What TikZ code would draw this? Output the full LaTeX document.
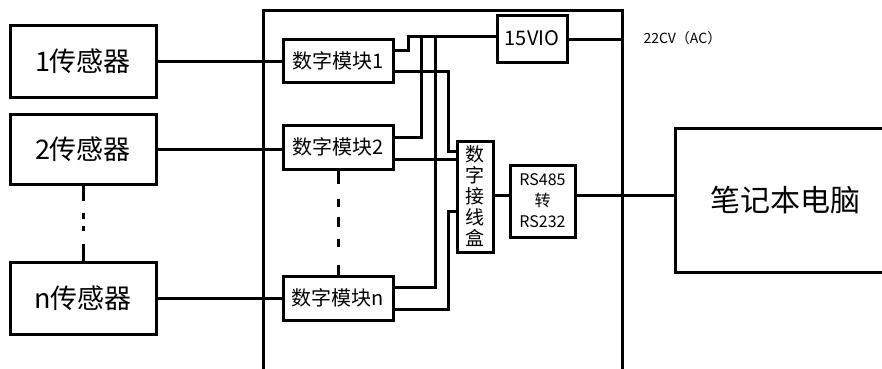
\documentclass[tikz,border=0pt]{standalone}
\usepackage{fontspec}
\setmainfont{Noto Sans CJK SC}
\begin{document}
\begin{tikzpicture}[x=1pt,y=-1pt,
  line width=3pt,
  box/.style={draw,rectangle,inner sep=0pt,line width=3pt,align=center},
  wire/.style={draw,line width=3pt},
]
\useasboundingbox (0,0) rectangle (882,368);
% enclosure
\coordinate (encTL) at (263,10);
\coordinate (encBR) at (622,395);
\draw[line width=3pt] (encTL) rectangle (encBR);

% sensors
\node[box,minimum width=146pt,minimum height=72pt,font=\fontsize{27}{30}\selectfont] (s1) at (83,61) {1传感器};
\node[box,minimum width=146pt,minimum height=70pt,font=\fontsize{27}{30}\selectfont] (s2) at (83,149) {2传感器};
\node[box,minimum width=146pt,minimum height=72pt,font=\fontsize{27}{30}\selectfont] (sn) at (83,298) {n传感器};

% modules
\node[box,minimum width=110pt,minimum height=43pt,font=\fontsize{20}{22}\selectfont] (m1) at (338,60.5) {数字模块1};
\node[box,minimum width=110pt,minimum height=44pt,font=\fontsize{20}{22}\selectfont] (m2) at (338,147) {数字模块2};
\node[box,minimum width=110pt,minimum height=44pt,font=\fontsize{20}{22}\selectfont] (mn) at (338,298) {数字模块n};

% power
\node[box,minimum width=70pt,minimum height=47pt,font=\fontsize{20}{22}\selectfont] (p) at (532,38.5) {15VIO};
\coordinate (pin) at (622,39);
\node[anchor=west,inner sep=0pt,font=\fontsize{14}{16}\selectfont] (ac) at (642,38) {22CV（AC）};

% junction box
\node[box,minimum width=36pt,minimum height=111pt,font=\fontsize{19}{21}\selectfont] (j) at (475,196.5) {数\\字\\接\\线\\盒};
% converter
\node[box,minimum width=65pt,minimum height=72pt,font=\fontsize{16}{21}\selectfont] (r) at (542.5,201) {RS485\\转\\RS232};
% laptop
\node[box,minimum width=220pt,minimum height=144pt,font=\fontsize{30}{32}\selectfont] (L) at (785,200) {笔记本电脑};

% helper levels
\coordinate (y36) at (0,36);
\coordinate (y50) at (0,50);
\coordinate (y71) at (0,71);
\coordinate (y137) at (0,137);
\coordinate (y151) at (0,151);
\coordinate (y159) at (0,159);
\coordinate (y195) at (0,195);
\coordinate (y211) at (0,211);
\coordinate (y287) at (0,287);
\coordinate (y309) at (0,309);
\coordinate (x408) at (408,0);
\coordinate (x421) at (421,0);
\coordinate (x435) at (435,0);
\coordinate (x448) at (448,0);

% sensor to module
\draw[wire] (s1.east) -- (m1.west |- s1.east);
\draw[wire] (s2.east) -- (m2.west |- s2.east);
\draw[wire] (sn.east) -- (mn.west |- sn.east);

% dash-dot vertical links
\draw[wire,dash pattern=on 15pt off 12pt on 6pt off 7pt on 5pt off 13pt on 40pt] (s2.south) -- (sn.north);
\draw[wire,dash pattern=on 13pt off 15pt on 8pt off 10pt on 10pt off 12pt on 8pt off 18pt on 40pt] (m2.south) -- (mn.north);

% power wiring
\draw[wire] (m1.east |- y50) -- (x408 |- y50) -- (x408 |- y36) -- (p.west |- y36);
\draw[wire] (x421 |- y36) -- (x421 |- y137) -- (m2.east |- y137);
\draw[wire] (x435 |- y36) -- (x435 |- y287) -- (mn.east |- y287);
\draw[wire] (p.east |- pin) -- (pin);

% data wiring
\draw[wire] (m1.east |- y71) -- (x448 |- y71) -- (x448 |- y151) -- (j.west |- y151);
\draw[wire] (m2.east |- y159) -- (j.west |- y159);
\draw[wire] (mn.east |- y309) -- (x448 |- y309) -- (x448 |- y211) -- (j.west |- y211);

% bus to PC
\draw[wire] (j.east |- y195) -- (r.west |- y195);
\draw[wire] (r.east |- y195) -- (L.west |- y195);
\end{tikzpicture}
\end{document}
